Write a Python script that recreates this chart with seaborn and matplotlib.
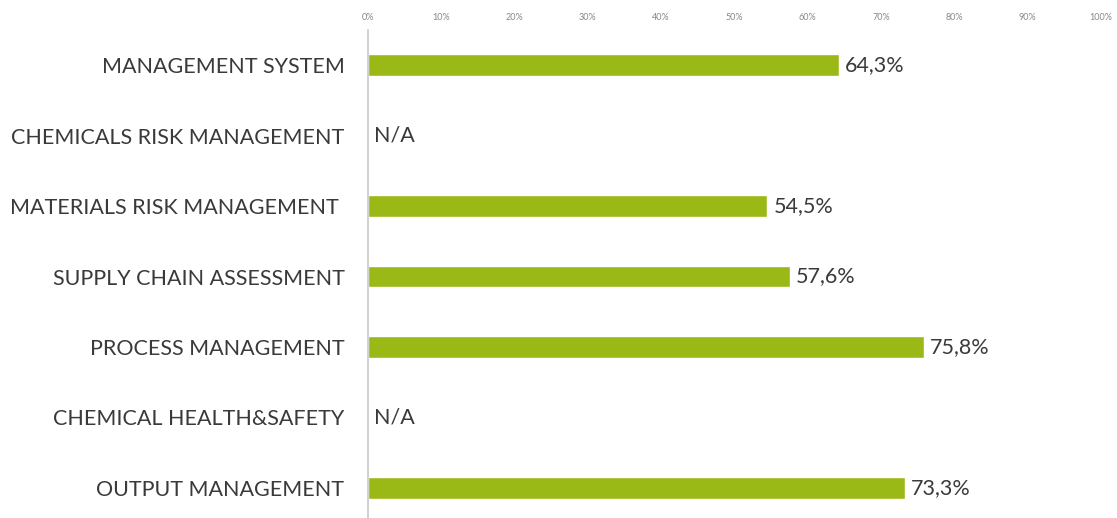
import matplotlib
matplotlib.use("Agg")
import matplotlib.pyplot as plt
import seaborn as sns
import numpy as np
import pandas as pd

categories = ["MANAGEMENT SYSTEM", "CHEMICALS RISK MANAGEMENT", "MATERIALS RISK MANAGEMENT ",
              "SUPPLY CHAIN ASSESSMENT", "PROCESS MANAGEMENT", "CHEMICAL HEALTH&SAFETY",
              "OUTPUT MANAGEMENT"]
values = [64.3, np.nan, 54.5, 57.6, 75.8, np.nan, 73.3]
tick_values = [0, 10, 20, 30, 40, 50, 60, 70, 80, 90, 100]
tick_labels = [f"{v}%" for v in tick_values]

sns.set_theme(style="white")
plt.rcParams['font.family'] = ['Lato', 'DejaVu Sans']

df = pd.DataFrame({"cat": categories, "val": values})

fig = plt.figure(figsize=(11.17, 5.18), dpi=100)
ax = fig.add_axes([368/1117, -5/518, 733/1117, 493/518])

sns.barplot(data=df.dropna(), x="val", y="cat", order=categories, orient="h",
            color="#9BB916", width=0.31, saturation=1, ax=ax)

ax.set_xlim(0, 100)
ax.set_ylim(6.5, -0.5)
ax.xaxis.tick_top()
ax.set_xticks(tick_values)
ax.set_xticklabels(tick_labels, fontsize=6.5, color="#888888")
ax.tick_params(axis="x", length=0, pad=6)
ax.tick_params(axis="y", length=0, pad=17)
ax.set_yticks(range(len(categories)))
ax.set_yticklabels(categories, fontsize=15.5, color="#3a3a3a")
ax.set_xlabel("")
ax.set_ylabel("")
for s in ["top", "right", "bottom"]:
    ax.spines[s].set_visible(False)
ax.spines["left"].set_color("#c8c8c8")
ax.spines["left"].set_linewidth(1.2)

for i, v in enumerate(values):
    if np.isnan(v):
        ax.text(0.8, i, "N/A", va="center", ha="left", fontsize=15.5, color="#3a3a3a")
    else:
        ax.text(v + 0.8, i, f"{v:.1f}%".replace(".", ","), va="center", ha="left",
                fontsize=15.5, color="#3a3a3a")

fig.savefig("out.png", dpi=100)
